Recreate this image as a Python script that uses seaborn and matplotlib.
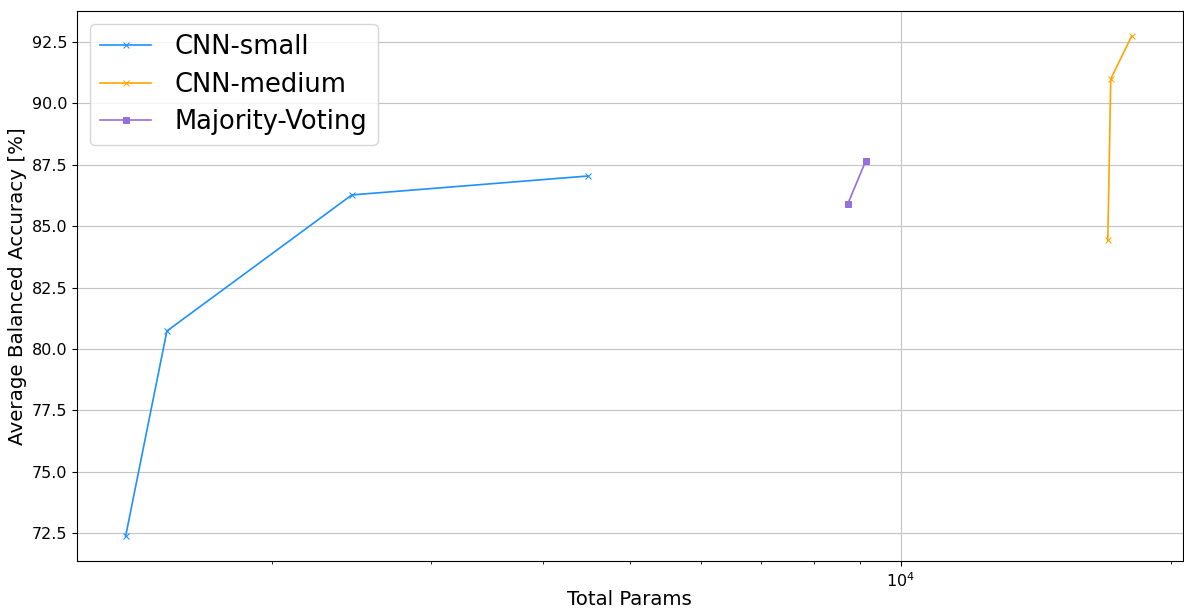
import matplotlib
matplotlib.use("Agg")
import matplotlib.pyplot as plt
import seaborn as sns
import pandas as pd

# Parameter counts and average balanced accuracy per model family
small_params = [1373, 1526, 2451, 4485]
small_acc = [72.38, 80.73, 86.27, 87.04]

medium_params = [16998, 17128, 18072]
medium_acc = [84.43, 90.99, 92.74]

voting_params = [8731, 9143]
voting_acc = [85.90, 87.65]

series = [
    ("CNN-small", small_params, small_acc, "x", "#1E90FF"),
    ("CNN-medium", medium_params, medium_acc, "x", "#FFA500"),
    ("Majority-Voting", voting_params, voting_acc, "s", "#9370DB"),
]

fig, ax = plt.subplots(figsize=(11.84, 6.08), dpi=100)
fig.subplots_adjust(left=0.065, right=0.999, top=0.982, bottom=0.077)

for name, xs, ys, mk, col in series:
    df = pd.DataFrame({"Total Params": xs, "acc": ys})
    sns.lineplot(data=df, x="Total Params", y="acc", ax=ax, label=name,
                 color=col, marker=mk, markersize=5, linewidth=1.2,
                 markeredgecolor=col, sort=False)

ax.set_xscale("log")
ax.set_xlim(1212, 20600)
ax.set_ylim(71.36, 93.76)
ax.grid(True, which="major", color="#c4c4c4")
ax.set_xlabel("Total Params", fontsize=14.2, labelpad=0)
ax.set_ylabel("Average Balanced Accuracy [%]", fontsize=14.3, labelpad=3)
ax.tick_params(axis="both", labelsize=11.5)
ax.legend(loc="upper left", fontsize=18.5, labelspacing=0.45, handletextpad=0.9)

fig.savefig("out.png", dpi=100)
